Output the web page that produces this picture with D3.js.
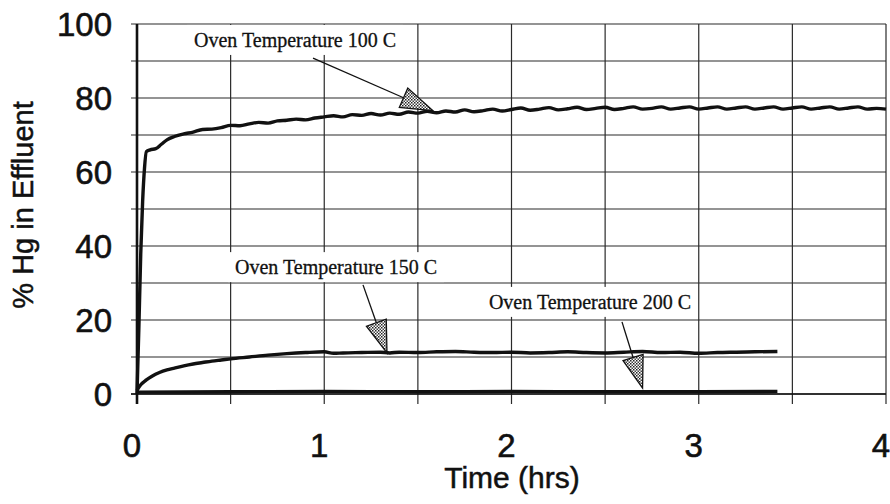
<!DOCTYPE html>
<html><head><meta charset="utf-8">
<script src="https://cdn.jsdelivr.net/npm/d3@7"></script>
<style>body{margin:0;background:#fff}svg{display:block}</style>
</head><body>
<svg id="chart" width="890" height="504"></svg>
<script>
// ---- data ----
const xTicks = [0, 1, 2, 3, 4];
const yTicks = [0, 20, 40, 60, 80, 100];
const xGrid = [0, 0.5, 1, 1.5, 2, 2.5, 3, 3.5, 4];
const yGrid = [0, 10, 20, 30, 40, 50, 60, 70, 80, 90, 100];

const t100 = [0,0.01,0.02,0.03,0.04,0.05,0.07,0.1,0.13,0.16,0.2,0.25,0.3,0.35,0.4,0.45,0.5,0.55,0.6,0.65,0.7,0.75,0.8,0.85,0.9,0.95,1.0,
  1.05,1.1,1.15,1.2,1.25,1.3,1.35,1.4,1.45,1.5,1.55,1.6,1.65,1.7,1.75,1.8,1.85,1.9,1.95,2.0,
  2.05,2.1,2.15,2.2,2.25,2.3,2.35,2.4,2.45,2.5,2.55,2.6,2.65,2.7,2.75,2.8,2.85,2.9,2.95,3.0,
  3.05,3.1,3.15,3.2,3.25,3.3,3.35,3.4,3.45,3.5,3.55,3.6,3.65,3.7,3.75,3.8,3.85,3.9,3.95,4.0];
const v100 = [0,18,38,52,61,65.5,66,66.3,67.5,68.7,69.6,70.3,70.8,71.5,71.6,72.0,72.6,72.5,73.0,73.4,73.2,73.8,74.0,74.3,74.1,74.6,74.9,
  75.2,74.9,75.5,75.3,75.8,75.4,75.9,75.6,76.2,75.9,76.4,76.0,76.5,76.2,76.8,76.3,76.6,77.0,76.5,76.9,
  77.3,76.7,77.0,77.4,76.8,77.1,77.5,76.9,77.2,77.5,76.9,77.2,77.6,77.0,77.2,77.6,77.0,77.3,77.6,77.0,
  77.3,77.6,77.0,77.3,77.6,77.0,77.3,77.6,77.0,77.3,77.6,77.0,77.3,77.6,77.0,77.3,77.6,77.0,77.2,77.0];

const t150 = [0,0.02,0.05,0.08,0.12,0.16,0.2,0.25,0.3,0.35,0.4,0.45,0.5,0.6,0.7,0.8,0.9,1.0,1.05,1.1,1.2,1.3,1.35,1.4,1.5,1.6,1.7,1.8,1.9,2.0,2.1,2.2,2.3,2.4,2.5,2.6,2.7,2.8,2.9,3.0,3.1,3.2,3.3,3.42];
const v150 = [1.0,2.5,3.8,4.8,5.8,6.5,7.0,7.6,8.1,8.5,8.9,9.2,9.5,10.0,10.5,10.9,11.2,11.4,11.0,11.1,11.2,11.3,11.1,11.3,11.2,11.4,11.5,11.3,11.2,11.3,11.1,11.2,11.4,11.2,11.1,11.3,11.5,11.2,11.3,11.0,11.2,11.3,11.4,11.5];

const t200 = [0,0.5,1,1.5,2,2.5,3,3.42];
const v200 = [0.5,0.6,0.7,0.6,0.7,0.6,0.6,0.7];

const annLabels = ["Oven Temperature 100 C", "Oven Temperature 150 C", "Oven Temperature 200 C"];
const annTextX = [0.844, 1.063, 2.419];
const annTextY = [93.8, 32.4, 23.0];
const annFromX = [0.94, 1.207, 2.59];
const annFromY = [90.8, 29.5, 19.5];
const annTipX = [1.58, 1.335, 2.70];
const annTipY = [76.6, 11.1, 1.6];

// ---- chart ----
const svg = d3.select("#chart");
const x = d3.scaleLinear().domain([0, 4]).range([137, 886]);
const y = d3.scaleLinear().domain([0, 100]).range([394, 24]);

const defs = svg.append("defs");
const pat = defs.append("pattern").attr("id", "dots").attr("patternUnits", "userSpaceOnUse")
  .attr("width", 3).attr("height", 3);
pat.append("rect").attr("width", 3).attr("height", 3).attr("fill", "#fff");
pat.append("rect").attr("width", 1.5).attr("height", 1.5).attr("fill", "#222");
pat.append("rect").attr("x", 1.5).attr("y", 1.5).attr("width", 1.5).attr("height", 1.5).attr("fill", "#444");

// grid
const grid = svg.append("g").attr("stroke", "#2a2a2a").attr("stroke-width", 1.2);
grid.selectAll("line.h").data(yGrid).join("line")
  .attr("x1", x(0) - 6).attr("x2", x(4)).attr("y1", d => y(d)).attr("y2", d => y(d));
grid.selectAll("line.v").data(xGrid).join("line")
  .attr("x1", d => x(d)).attr("x2", d => x(d)).attr("y1", y(100)).attr("y2", y(0) + 10);

// axes lines
svg.append("line").attr("x1", x(0)).attr("x2", x(0)).attr("y1", y(100)).attr("y2", y(0) + 10)
  .attr("stroke", "#111").attr("stroke-width", 2.6);
svg.append("line").attr("x1", x(0) - 6).attr("x2", x(4)).attr("y1", y(0)).attr("y2", y(0))
  .attr("stroke", "#111").attr("stroke-width", 1.6);

// tick labels
const font = "'Liberation Sans', Arial, sans-serif";
svg.append("g").selectAll("text").data(yTicks).join("text")
  .attr("x", 112).attr("y", d => y(d) + 12).attr("text-anchor", "end")
  .attr("font-family", font).attr("font-size", 33).attr("fill", "#111")
  .attr("stroke", "#111").attr("stroke-width", 0.6).text(d => d);
svg.append("g").selectAll("text").data(xTicks).join("text")
  .attr("x", d => x(d) - 5).attr("y", 457).attr("text-anchor", "middle")
  .attr("font-family", font).attr("font-size", 33).attr("fill", "#111")
  .attr("stroke", "#111").attr("stroke-width", 0.6).text(d => d);

svg.append("text").attr("x", 512).attr("y", 488).attr("text-anchor", "middle")
  .attr("font-family", font).attr("font-size", 30).attr("fill", "#111")
  .attr("stroke", "#111").attr("stroke-width", 0.5).text("Time (hrs)");
svg.append("text").attr("transform", "translate(33,205) rotate(-90)").attr("text-anchor", "middle")
  .attr("font-family", font).attr("font-size", 29).attr("fill", "#111")
  .attr("stroke", "#111").attr("stroke-width", 0.5).text("% Hg in Effluent");

// series
const line = d3.line().x(d => x(d[0])).y(d => y(d[1])).curve(d3.curveMonotoneX);
const series = [
  d3.zip(t100, v100), d3.zip(t150, v150), d3.zip(t200, v200)
];
svg.append("g").selectAll("path").data(series).join("path")
  .attr("d", line).attr("fill", "none").attr("stroke", "#111").attr("stroke-width", 3.4)
  .attr("stroke-linejoin", "round");

// annotations
const ann = svg.append("g");
annLabels.forEach((lab, i) => {
  const g = ann.append("g");
  const rect = g.append("rect").attr("fill", "#fff");
  const t = g.append("text").attr("x", x(annTextX[i])).attr("y", y(annTextY[i]))
    .attr("text-anchor", "middle").attr("font-family", "'Liberation Serif', 'Times New Roman', serif")
    .attr("font-size", 20).attr("fill", "#111").attr("stroke", "#111").attr("stroke-width", 0.3).text(lab);
  const bb = t.node().getBBox();
  rect.attr("x", bb.x - 7).attr("y", bb.y - 4).attr("width", bb.width + 14).attr("height", bb.height + 7);
  const x1 = x(annFromX[i]), y1 = y(annFromY[i]), x2 = x(annTipX[i]), y2 = y(annTipY[i]);
  const dx = x2 - x1, dy = y2 - y1, L = Math.hypot(dx, dy), ux = dx / L, uy = dy / L;
  const hl = 32, hw = 10.5;
  const bx = x2 - ux * hl, by = y2 - uy * hl;
  g.append("line").attr("x1", x1).attr("y1", y1).attr("x2", bx).attr("y2", by)
    .attr("stroke", "#111").attr("stroke-width", 1.3);
  g.append("path").attr("d", `M${x2},${y2}L${bx - uy * hw},${by + ux * hw}L${bx + uy * hw},${by - ux * hw}Z`)
    .attr("fill", "url(#dots)").attr("stroke", "#111").attr("stroke-width", 1.3);
});
</script>
</body></html>
